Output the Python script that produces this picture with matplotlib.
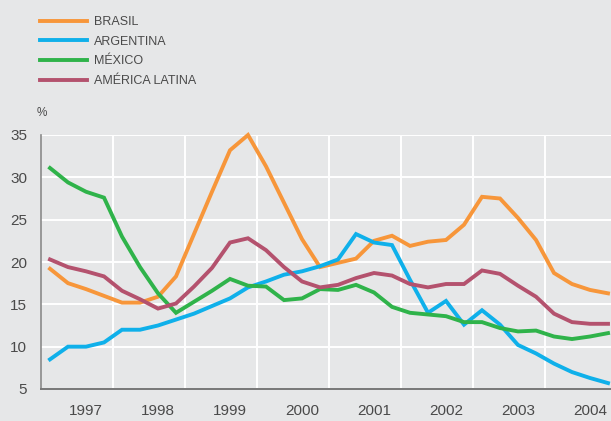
import numpy as np
import matplotlib
matplotlib.use("Agg")
import matplotlib.pyplot as plt

# Trimestres 1997T1 .. 2004T4
years = list(range(1997, 2005))
quarters = [y + (q + 0.5) / 4 for y in years for q in range(4)]

brasil = [19.2, 17.5, 16.8, 16.0, 15.2, 15.2, 15.9, 18.3, 23.3, 28.3, 33.2, 35.0,
          31.3, 27.0, 22.7, 19.4, 19.9, 20.4, 22.5, 23.1, 21.9, 22.4, 22.6, 24.4,
          27.7, 27.5, 25.2, 22.6, 18.7, 17.4, 16.7, 16.3]
argentina = [8.5, 10.0, 10.0, 10.5, 12.0, 12.0, 12.5, 13.2, 13.9, 14.8, 15.7, 17.0,
             17.7, 18.5, 18.9, 19.5, 20.3, 23.3, 22.3, 22.0, 17.9, 14.0, 15.4, 12.6,
             14.3, 12.6, 10.2, 9.2, 8.0, 7.0, 6.3, 5.7]
mexico = [31.1, 29.4, 28.3, 27.6, 23.0, 19.4, 16.3, 14.0, 15.3, 16.6, 18.0, 17.2,
          17.1, 15.5, 15.7, 16.8, 16.7, 17.3, 16.4, 14.7, 14.0, 13.8, 13.6, 12.9,
          12.9, 12.2, 11.8, 11.9, 11.2, 10.9, 11.2, 11.6]
america_latina = [20.3, 19.4, 18.9, 18.3, 16.6, 15.6, 14.5, 15.1, 17.1, 19.3, 22.3, 22.8,
                  21.4, 19.4, 17.7, 17.0, 17.3, 18.1, 18.7, 18.4, 17.4, 17.0, 17.4, 17.4,
                  19.0, 18.6, 17.2, 15.9, 13.9, 12.9, 12.7, 12.7]

series = [
    ("BRASIL", brasil, "#f7963a"),
    ("ARGENTINA", argentina, "#0fb0ea"),
    ("MÉXICO", mexico, "#2fb34a"),
    ("AMÉRICA LATINA", america_latina, "#b4526e"),
]

bg = "#e6e7e8"
txt = "#4a4a4a"
plt.rcParams['font.family'] = ['Liberation Sans', 'DejaVu Sans']

fig = plt.figure(figsize=(6.11, 4.21), dpi=100, facecolor=bg)
ax = fig.add_axes([41 / 611, 1 - 389 / 421, 1 - 41 / 611, (389 - 135) / 421])
ax.set_facecolor(bg)

for name, vals, col in series:
    ax.plot(quarters, vals, color=col, lw=2.8, label=name, solid_joinstyle="miter",
            clip_on=False, zorder=3)

ax.set_xlim(1997, 1997 + (611 - 41) / 72)
ax.set_ylim(5, 35)
ax.set_yticks(range(5, 40, 5))
ax.set_xticks(years[1:])
ax.set_xticklabels([])
ax.set_xticks([y + 0.625 for y in years], minor=True)
ax.set_xticklabels([str(y) for y in years], minor=True)
ax.tick_params(axis="x", which="both", length=0, pad=11, labelsize=11, labelcolor=txt)
ax.tick_params(axis="y", length=0, pad=10, labelsize=11, labelcolor=txt)
ax.grid(True, which="major", color="white", lw=1.4, zorder=1)

for s in ["top", "right"]:
    ax.spines[s].set_visible(False)
ax.spines["left"].set_color("#8a8a8a")
ax.spines["bottom"].set_color("#777777")
ax.spines["left"].set_linewidth(1.2)
ax.spines["bottom"].set_linewidth(1.4)

fig.text(37 / 611, 1 - 113 / 421, "%", fontsize=8.5, color=txt, va="center")

leg = ax.legend(loc="upper left", bbox_to_anchor=(40 / 611, 1 - 16 / 421),
                bbox_transform=fig.transFigure, frameon=False, fontsize=9,
                handlelength=3.75, handletextpad=0.6, labelspacing=0.62,
                borderaxespad=0, borderpad=0)
for t in leg.get_texts():
    t.set_color(txt)

fig.savefig("out.png", dpi=100, facecolor=bg)
